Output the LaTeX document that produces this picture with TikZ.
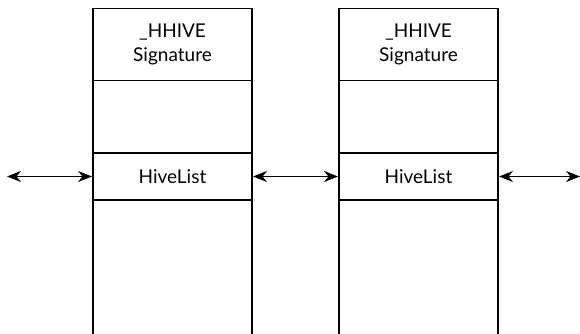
\documentclass[tikz,border=0pt]{standalone}
\usepackage{fontspec}
\setmainfont{Lato}
\usetikzlibrary{arrows.meta,positioning}

\begin{document}
\begin{tikzpicture}[x=1pt,y=1pt,
    cell/.style={draw, line width=1.5pt, rectangle, minimum width=159pt, inner sep=0pt, outer sep=0pt, align=center, font=\fontsize{19}{24}\selectfont},
    link/.style={{Stealth[length=14pt,width=11pt,inset=4.5pt]}-{Stealth[length=14pt,width=11pt,inset=4.5pt]}, line width=1.6pt}]
    \useasboundingbox (0,0) rectangle (580,334);

    % left hive
    \node (sigA) [cell, minimum height=72pt] at (172.5,289.5) {\_HHIVE\\Signature};
    \node (gapA) [cell, minimum height=72.5pt, below=0pt of sigA] {};
    \node (listA) [cell, minimum height=47pt, below=0pt of gapA] {HiveList};
    \coordinate (botAl) at (93,0);
    \coordinate (botAr) at (252,0);
    \draw[line width=1.5pt] (listA.south west) -- (botAl);
    \draw[line width=1.5pt] (listA.south east) -- (botAr);

    % right hive
    \node (sigB) [cell, minimum height=72pt] at (418.5,289.5) {\_HHIVE\\Signature};
    \node (gapB) [cell, minimum height=72.5pt, below=0pt of sigB] {};
    \node (listB) [cell, minimum height=47pt, below=0pt of gapB] {HiveList};
    \coordinate (botBl) at (339,0);
    \coordinate (botBr) at (498,0);
    \draw[line width=1.5pt] (listB.south west) -- (botBl);
    \draw[line width=1.5pt] (listB.south east) -- (botBr);

    % links
    \coordinate (prev) at (7,157.5);
    \coordinate (next) at (580,157.5);
    \draw[link] (prev) -- ([xshift=-1pt]listA.west);
    \draw[link] ([xshift=1pt]listA.east) -- ([xshift=-1pt]listB.west);
    \draw[link] ([xshift=1pt]listB.east) -- (next);
\end{tikzpicture}
\end{document}
